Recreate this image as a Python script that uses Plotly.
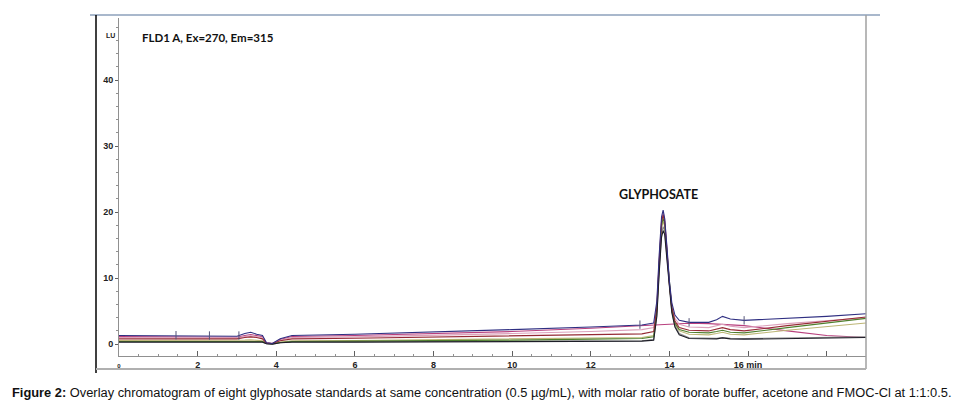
import plotly.graph_objects as go

# retention time (min), shared by all traces
TIME = [0, 1.0, 2.0, 3.0, 3.2, 3.35, 3.5, 3.65, 3.75, 3.9, 4.1, 4.4, 6, 8, 10, 12,
        13.3, 13.6, 13.68, 13.74, 13.8, 13.84, 13.88, 13.94, 14.0, 14.06, 14.14, 14.25,
        14.5, 15.0, 15.2, 15.35, 15.55, 15.9, 17, 18, 19]

NAVY = [1.3, 1.3, 1.25, 1.2, 1.6, 1.8, 1.5, 1.3, 0.2, 0.1, 0.8, 1.3, 1.5, 1.8, 2.2, 2.6,
        2.9, 3.2, 6.5, 13.5, 19.3, 20.3, 19.0, 14.5, 9.5, 6.3, 4.4, 3.6,
        3.3, 3.3, 3.7, 4.2, 3.8, 3.6, 3.9, 4.2, 4.6]
MAGENTA = [1.15, 1.15, 1.1, 1.05, 1.3, 1.45, 1.3, 1.1, 0.2, 0.1, 0.7, 1.15, 1.3, 1.55, 1.9, 2.4,
           2.75, 2.85, 2.85, 2.9, 2.9, 2.9, 2.95, 2.95, 3.0, 3.0, 3.05, 3.1,
           3.15, 3.1, 3.05, 3.05, 3.0, 2.8, 2.0, 1.3, 1.0]
PINK = [1.0, 1.0, 1.0, 0.95, 1.15, 1.25, 1.15, 1.0, 0.15, 0.1, 0.6, 1.0, 1.1, 1.3, 1.6, 1.9,
        2.2, 2.5, 6.0, 13.0, 18.8, 19.9, 18.9, 14.2, 9.2, 5.9, 3.9, 3.0,
        2.6, 2.5, 2.8, 3.0, 2.7, 2.5, 3.1, 3.6, 4.0]
RED = [0.8, 0.8, 0.8, 0.8, 1.0, 1.1, 1.0, 0.8, 0.15, 0.1, 0.5, 0.8, 0.9, 1.05, 1.2, 1.4,
       1.55, 1.9, 5.5, 12.5, 18.5, 19.6, 18.6, 14.0, 9.0, 5.6, 3.5, 2.5,
       2.1, 2.0, 2.3, 2.5, 2.2, 2.0, 2.8, 3.5, 4.1]
GREEN = [0.4, 0.4, 0.4, 0.4, 0.5, 0.5, 0.45, 0.4, 0.1, 0.05, 0.25, 0.4, 0.45, 0.5, 0.6, 0.75,
         0.85, 1.1, 5.2, 12.2, 18.0, 19.1, 18.2, 13.6, 8.8, 5.4, 3.2, 2.2,
         1.8, 1.7, 1.9, 2.1, 1.8, 1.7, 2.5, 3.2, 3.9]
OLIVE = [0.55, 0.55, 0.5, 0.5, 0.6, 0.65, 0.6, 0.5, 0.1, 0.05, 0.3, 0.5, 0.55, 0.65, 0.75, 0.9,
         1.0, 1.3, 5.0, 11.8, 17.5, 18.6, 17.8, 13.4, 8.6, 5.2, 3.0, 2.0,
         1.5, 1.4, 1.6, 1.8, 1.5, 1.4, 2.1, 2.7, 3.2]
GRAY = [0.35, 0.35, 0.35, 0.35, 0.4, 0.45, 0.4, 0.35, 0.05, 0.0, 0.2, 0.35, 0.35, 0.4, 0.4, 0.45,
        0.5, 0.7, 4.5, 11.2, 16.8, 17.8, 17.1, 13.0, 8.3, 5.0, 2.8, 1.6,
        0.95, 0.85, 0.9, 1.0, 0.9, 0.85, 0.9, 1.0, 1.1]
BLACK = [0.3, 0.3, 0.3, 0.3, 0.35, 0.4, 0.35, 0.3, 0.05, 0.0, 0.2, 0.3, 0.3, 0.35, 0.35, 0.4,
         0.45, 0.6, 4.2, 10.8, 16.2, 17.2, 16.6, 12.6, 8.0, 4.8, 2.6, 1.4,
         0.85, 0.75, 0.8, 0.95, 0.8, 0.75, 0.8, 0.9, 1.0]

SERIES = [
    ('magenta', MAGENTA, '#b8407e'),
    ('pink', PINK, '#dca0bb'),
    ('olive', OLIVE, '#bdb676'),
    ('gray', GRAY, '#8e8e8e'),
    ('green', GREEN, '#4f7f2d'),
    ('red', RED, '#962a35'),
    ('black', BLACK, '#1e1e28'),
    ('navy', NAVY, '#2f2f82'),
]

# integration event marks
EVENT_T = [1.45, 2.3, 3.05, 13.25, 14.5, 15.9]
EVENT_Y = [1.35, 1.3, 1.3, 2.95, 3.3, 3.6]

X_TICKS = [0, 2, 4, 6, 8, 10, 12, 14, 16, 18]
X_LABELS = ['<span style="font-size:6px">0</span>', '2', '4', '6', '8', '10', '12',
            '14', '16 min', '']
Y_TICKS = [0, 10, 20, 30, 40]

fig = go.Figure()
for name, vals, color in SERIES:
    fig.add_trace(go.Scatter(x=TIME, y=vals, mode='lines', name=name,
                             line=dict(color=color, width=1.1), hoverinfo='skip'))
fig.add_trace(go.Scatter(x=EVENT_T, y=EVENT_Y, mode='markers',
                         marker=dict(symbol='line-ns', size=6,
                                     line=dict(color='#55557a', width=1)),
                         hoverinfo='skip'))

# plot area in page pixels: x 119..866, y 18..356 (page has an 8px body margin)
def px(x):
    return (x - 119) / 747


def py(y):
    return (356 - y) / 338


frame = [
    dict(x0=px(90), x1=px(880), y0=py(15), y1=py(15), color='#a9b8cc', width=2),
    dict(x0=px(96), x1=px(96), y0=py(15), y1=py(373), color='#000000', width=1.5),
    dict(x0=px(866), x1=px(866), y0=py(15), y1=py(369), color='#a0a0a0', width=1.5),
    dict(x0=px(96), x1=px(866), y0=py(369), y1=py(369), color='#b0b0b0', width=2),
]
for f in frame:
    fig.add_shape(type='line', xref='paper', yref='paper', x0=f['x0'], x1=f['x1'],
                  y0=f['y0'], y1=f['y1'], line=dict(color=f['color'], width=f['width']))

fig.add_annotation(xref='paper', yref='paper', x=px(140), y=py(38), xanchor='left',
                   yanchor='middle', text='FLD1 A, Ex=270, Em=315', showarrow=False,
                   font=dict(family='Lato', size=11.5, color='#111', weight='bold'))
fig.add_annotation(xref='x', yref='y', x=13.72, y=22.7, text='GLYPHOSATE', showarrow=False,
                   font=dict(family='Lato', size=12.5, color='#111', weight='bold'))
fig.add_annotation(xref='paper', yref='paper', x=px(104), y=py(30), text='LU', showarrow=False,
                   font=dict(family='Liberation Sans', size=7, color='#222', weight='bold'))
fig.add_annotation(xref='paper', yref='paper', x=px(10), y=py(392), xanchor='left',
                   yanchor='middle', showarrow=False,
                   text='<b>Figure 2:</b> Overlay chromatogram of eight glyphosate standards at same '
                        'concentration (0.5 µg/mL), with molar ratio of borate buffer, acetone and '
                        'FMOC-Cl at 1:1:0.5.',
                   font=dict(family='Liberation Sans', size=12.85, color='#111'))

fig.update_layout(
    width=960, height=410, template='plotly_white',
    margin=dict(l=111, r=102, t=10, b=62, autoexpand=False),
    plot_bgcolor='white', paper_bgcolor='white', showlegend=False,
    xaxis=dict(range=[0, 19], showgrid=False, zeroline=False, showline=True,
               linecolor='#909090', linewidth=1, mirror=False, automargin=False,
               tickvals=X_TICKS, ticktext=X_LABELS, ticks='inside', ticklen=5,
               tickcolor='#606060',
               minor=dict(dtick=0.5, ticks='inside', ticklen=2, tickcolor='#909090'),
               tickfont=dict(family='Liberation Sans', size=9, color='#222', weight='bold')),
    yaxis=dict(range=[-1.8, 49.4], showgrid=False, zeroline=False, showline=True,
               linecolor='#909090', linewidth=1, automargin=False,
               tickvals=Y_TICKS, ticks='outside', ticklen=3, tickcolor='#606060',
               minor=dict(dtick=2, ticks='outside', ticklen=2, tickcolor='#909090'),
               tickfont=dict(family='Liberation Sans', size=9, color='#222', weight='bold')),
)

fig.write_html('out.html')
